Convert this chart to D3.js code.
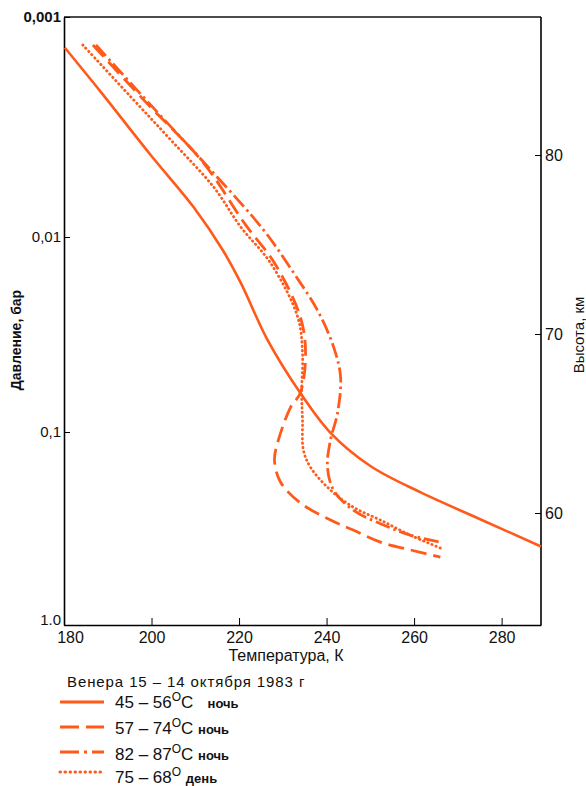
<!DOCTYPE html>
<html>
<head>
<meta charset="utf-8">
<script src="https://cdn.jsdelivr.net/npm/d3@7"></script>
<style>
  html, body { margin: 0; padding: 0; background: #fff; }
  svg { display: block; }
  text { font-family: "Liberation Sans", Arial, Helvetica, sans-serif; fill: #111; }
</style>
</head>
<body>
<svg id="chart" width="586" height="786"></svg>
<script>
// ---- Data ----
const tempTicks = [180, 200, 220, 240, 260, 280];
const pressureTicks = [0.001, 0.01, 0.1, 1];
const pressureLabels = ["0,001", "0,01", "0,1", "1.0"];
const heightTicks = [60, 70, 80];

// [temperature K, pressure bar]
const series45_56night = [
  [180.2, 0.00138], [188.4, 0.00219], [199.8, 0.00424], [209.6, 0.00731],
  [216.3, 0.0117], [220.4, 0.0172], [226.5, 0.0337], [234.0, 0.0631],
  [240.9, 0.101], [250.0, 0.150], [261.4, 0.205], [275.1, 0.283],
  [289.0, 0.392]
];
const series57_74night = [
  [186.6, 0.00134], [198.2, 0.00238], [211.9, 0.00461], [221.5, 0.00881],
  [228.1, 0.0136], [234.0, 0.0257], [235.2, 0.0394], [234.0, 0.0631],
  [231.8, 0.0745], [229.0, 0.110], [228.1, 0.140], [229.5, 0.182],
  [234.0, 0.233], [240.9, 0.286], [246.1, 0.322], [252.3, 0.372],
  [259.1, 0.408], [266.0, 0.445]
];
const series82_87night = [
  [187.3, 0.00134], [199.8, 0.00251], [213.5, 0.00495], [225.6, 0.00929],
  [232.5, 0.0153], [237.9, 0.0237], [241.6, 0.0366], [243.2, 0.0522],
  [242.5, 0.0799], [240.9, 0.110], [240.2, 0.152], [241.6, 0.200],
  [246.1, 0.254], [253.0, 0.303], [259.1, 0.342], [266.0, 0.372]
];
const series75_68day = [
  [184.3, 0.00134], [195.3, 0.00231], [204.4, 0.00362], [214.2, 0.00593],
  [220.4, 0.00901], [227.2, 0.0136], [233.4, 0.0257], [234.5, 0.0394],
  [234.3, 0.0631], [234.5, 0.0868], [234.7, 0.124], [236.3, 0.152],
  [240.9, 0.200], [246.1, 0.245], [252.3, 0.286], [259.1, 0.342],
  [266.0, 0.399]
];

const legendTitle = "Венера 15 – 14 октября 1983 г";
const legendItems = [
  { from: "45 – 56", unit: "C", tod: "ночь", gap: "   ", dash: null, cap: "butt", w: 3 },
  { from: "57 – 74", unit: "C", tod: "ночь", gap: " ", dash: "19,7", cap: "butt", w: 3 },
  { from: "82 – 87", unit: "C", tod: "ночь", gap: " ", dash: "19,5,3,5", cap: "butt", w: 3 },
  { from: "75 – 68", unit: "",  tod: "день", gap: " ", dash: "0.5,4.5", cap: "round", w: 3 }
];

// ---- Layout ----
const COLOR = "#ff5a1a";
const L = 64, R = 541, T = 17, B = 625;
const svg = d3.select("#chart");

const x = d3.scaleLinear().domain([180, 289]).range([L, R]);
const y = d3.scaleLog().domain(pressureTicks).range([17, 237, 432, B]);
const h = d3.scaleLinear().domain([60, 80]).range([513, 155]);

const FONT = "Liberation Sans, Arial, sans-serif";

// frame line (top)
svg.append("line").attr("x1", L).attr("x2", R).attr("y1", T).attr("y2", T)
  .attr("stroke", "#111").attr("stroke-width", 1.6);

// left axis
const gy = svg.append("g").attr("transform", `translate(${L},0)`)
  .call(d3.axisLeft(y).tickValues(pressureTicks)
    .tickFormat((d, i) => pressureLabels[i]).tickSizeInner(-6).tickSizeOuter(0).tickPadding(3));
gy.selectAll("text").attr("font-size", 15).style("font-family", FONT).style("fill", "#111");
gy.select(".domain").attr("stroke-width", 1.6);
gy.select(".tick text").attr("font-weight", "bold");
gy.selectAll(".tick text").filter(d => d === 1).attr("y", -5);

// bottom axis
const gx = svg.append("g").attr("transform", `translate(0,${B})`)
  .call(d3.axisBottom(x).tickValues(tempTicks).tickSizeInner(-7).tickSizeOuter(0).tickPadding(7));
gx.selectAll("text").attr("font-size", 16).style("font-family", FONT).style("fill", "#111");
gx.select(".domain").attr("stroke-width", 1.6);
gx.selectAll(".tick text").filter(d => d === 180).attr("x", 6);

// right axis (height, km)
const gh = svg.append("g").attr("transform", `translate(${R},0)`)
  .call(d3.axisRight(h).tickValues(heightTicks).tickSizeInner(-6).tickSizeOuter(0).tickPadding(4));
gh.selectAll("text").attr("font-size", 16).style("font-family", FONT).style("fill", "#111");
gh.select(".domain").attr("d", `M0,${T}V${B}`).attr("stroke-width", 1.6);

// axis titles
svg.append("text").attr("x", 286).attr("y", 661).attr("text-anchor", "middle")
  .attr("font-size", 16).text("Температура, К");
svg.append("text").attr("transform", "translate(21,340) rotate(-90)")
  .attr("text-anchor", "middle").attr("font-size", 14).attr("font-weight", "bold")
  .text("Давление, бар");
svg.append("text").attr("transform", "translate(584,335) rotate(-90)")
  .attr("text-anchor", "middle").attr("font-size", 15).text("Высота, км");

// curves
const line = d3.line().x(d => x(d[0])).y(d => y(d[1])).curve(d3.curveCatmullRom.alpha(0.5));
const curves = [
  { data: series45_56night, dash: null, w: 2.6, cap: "butt" },
  { data: series57_74night, dash: "16,7", w: 2.8, cap: "butt" },
  { data: series82_87night, dash: "15,4,2.5,4", w: 2.8, cap: "butt" },
  { data: series75_68day, dash: "0.4,4", w: 2.8, cap: "round" }
];
curves.forEach(c => {
  svg.append("path").datum(c.data).attr("d", line)
    .attr("fill", "none").attr("stroke", COLOR).attr("stroke-width", c.w)
    .attr("stroke-linecap", c.cap)
    .attr("stroke-dasharray", c.dash);
});

// legend
svg.append("text").attr("x", 67).attr("y", 687).attr("font-size", 15)
  .attr("letter-spacing", 0.9).text(legendTitle);
const lineY = [702, 727, 752, 772];
const textY = [708, 734, 760, 783];
legendItems.forEach((it, i) => {
  svg.append("line").attr("x1", 60).attr("x2", 104).attr("y1", lineY[i]).attr("y2", lineY[i])
    .attr("stroke", COLOR).attr("stroke-width", it.w).attr("stroke-linecap", it.cap)
    .attr("stroke-dasharray", it.dash);
  const t = svg.append("text").attr("x", 115).attr("y", textY[i]).attr("font-size", 17)
    .attr("xml:space", "preserve").style("white-space", "pre");
  t.append("tspan").text(it.from);
  t.append("tspan").attr("dy", -7).attr("font-size", 12).text("O");
  t.append("tspan").attr("dy", 7).text(it.unit + it.gap);
  t.append("tspan").attr("font-size", 13).attr("font-weight", "bold").text(it.tod);
});
</script>
</body>
</html>
